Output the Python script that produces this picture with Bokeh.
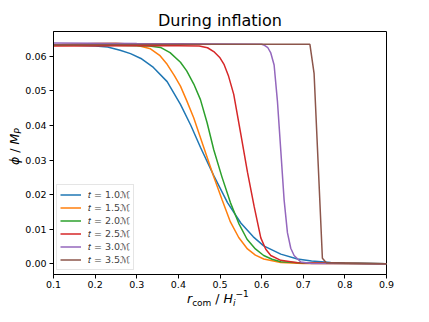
from bokeh.plotting import figure
from bokeh.models import Range1d, FixedTicker, NumeralTickFormatter, Legend, LegendItem, Div
from bokeh.layouts import row, column
from bokeh.embed import file_html
from bokeh.resources import INLINE

# ---- data ----
labels = ["𝑡 = 1.0ℳ", "𝑡 = 1.5ℳ", "𝑡 = 2.0ℳ", "𝑡 = 2.5ℳ", "𝑡 = 3.0ℳ", "𝑡 = 3.5ℳ"]
colors = ["#1f77b4", "#ff7f0e", "#2ca02c", "#d62728", "#9467bd", "#8c564b"]

r_t10 = [0.10, 0.15, 0.20, 0.23, 0.26, 0.285, 0.31, 0.34, 0.373, 0.405, 0.43, 0.453, 0.485, 0.518,
         0.55, 0.58, 0.605, 0.646, 0.686, 0.72, 0.766, 0.80, 0.90]
phi_t10 = [0.0632, 0.0632, 0.0630, 0.0627, 0.0618, 0.0608, 0.0594, 0.0568, 0.0527, 0.0461, 0.0400, 0.0337,
           0.0255, 0.0177, 0.0118, 0.0078, 0.0052, 0.0028, 0.0014, 0.0008, 0.0004, 0.0002, 0.0]

r_t15 = [0.10, 0.20, 0.25, 0.28, 0.30, 0.333, 0.355, 0.373, 0.39, 0.405, 0.42, 0.437, 0.46, 0.485,
         0.505, 0.525, 0.545, 0.566, 0.585, 0.605, 0.646, 0.70, 0.90]
phi_t15 = [0.0634, 0.0637, 0.0638, 0.0636, 0.0632, 0.0622, 0.0603, 0.0577, 0.0545, 0.0514, 0.0472, 0.0422,
           0.0340, 0.0252, 0.0185, 0.0121, 0.0076, 0.0043, 0.0025, 0.0014, 0.0004, 0.0001, 0.0]

r_t20 = [0.10, 0.25, 0.30, 0.33, 0.357, 0.38, 0.405, 0.42, 0.437, 0.453, 0.469, 0.485, 0.505, 0.525,
         0.545, 0.565, 0.585, 0.605, 0.625, 0.646, 0.70, 0.90]
phi_t20 = [0.0632, 0.0632, 0.0631, 0.0630, 0.0626, 0.0611, 0.0583, 0.0558, 0.0520, 0.0475, 0.0408, 0.0330,
           0.0250, 0.0177, 0.0117, 0.0071, 0.0043, 0.0024, 0.0013, 0.0006, 0.0002, 0.0]

r_t25 = [0.10, 0.30, 0.40, 0.45, 0.47, 0.485, 0.50, 0.51, 0.52, 0.533, 0.55, 0.566, 0.582, 0.598,
         0.61, 0.622, 0.646, 0.686, 0.90]
phi_t25 = [0.0630, 0.0631, 0.0631, 0.0630, 0.0625, 0.0614, 0.0596, 0.0576, 0.0545, 0.0490, 0.0375, 0.0265,
           0.0166, 0.0075, 0.0042, 0.0024, 0.0010, 0.0003, 0.0]

r_t30 = [0.10, 0.30, 0.50, 0.60, 0.605, 0.615, 0.622, 0.630, 0.638, 0.646, 0.654, 0.662, 0.670, 0.678,
         0.694, 0.72, 0.90]
phi_t30 = [0.0639, 0.0637, 0.0636, 0.0635, 0.0633, 0.0625, 0.0610, 0.0575, 0.0470, 0.0328, 0.0185, 0.0090,
           0.0045, 0.0024, 0.0005, 0.0001, 0.0]

r_t35 = [0.10, 0.50, 0.716, 0.726, 0.736, 0.746, 0.756, 0.90]
phi_t35 = [0.0634, 0.0635, 0.0635, 0.0551, 0.0285, 0.0016, 0.0002, 0.0]

x_ticks = [0.1, 0.2, 0.3, 0.4, 0.5, 0.6, 0.7, 0.8, 0.9]
y_ticks = [0.00, 0.01, 0.02, 0.03, 0.04, 0.05, 0.06]

series = [(r_t10, phi_t10), (r_t15, phi_t15), (r_t20, phi_t20),
          (r_t25, phi_t25), (r_t30, phi_t30), (r_t35, phi_t35)]

FONT = "DejaVu Sans"

p = figure(width=391, height=291, output_backend="svg", toolbar_location=None,
           x_range=Range1d(0.1, 0.9), y_range=Range1d(-0.0031, 0.0672),
           min_border_left=31, min_border_right=27, min_border_top=31, min_border_bottom=17,
           title="During inflation")
p.title.text_font = FONT
p.title.text_font_size = "16px"
p.title.text_font_style = "normal"
p.title.text_color = "black"
p.title.align = "center"
p.title.standoff = 4

p.grid.visible = False
p.outline_line_color = "black"
p.outline_line_width = 1
p.background_fill_color = "white"
p.border_fill_color = "white"

for ax in (p.xaxis[0], p.yaxis[0]):
    ax.axis_line_color = "black"
    ax.major_tick_line_color = "black"
    ax.major_tick_in = 0
    ax.major_tick_out = 4
    ax.minor_tick_line_color = None
    ax.major_label_text_font = FONT
    ax.major_label_text_font_size = "9.5px"
    ax.major_label_text_color = "black"

p.xaxis.ticker = FixedTicker(ticks=x_ticks)
p.yaxis.ticker = FixedTicker(ticks=y_ticks)
p.xaxis.formatter = NumeralTickFormatter(format="0.0")
p.yaxis.formatter = NumeralTickFormatter(format="0.00")
p.xaxis.major_label_standoff = 2
p.yaxis.major_label_standoff = 3

items = []
for (rr, ph), c, lab in zip(series, colors, labels):
    g = p.line(rr, ph, line_color=c, line_width=1.5)
    items.append(LegendItem(label=lab, renderers=[g]))

leg = Legend(items=items, location=(3, 4))
leg.label_text_font = FONT
leg.label_text_font_size = "9.5px"
leg.glyph_width = 21
leg.glyph_height = 13
leg.label_height = 13
leg.label_standoff = 7
leg.padding = 3
leg.spacing = 0
leg.margin = 0
leg.border_line_color = "#cccccc"
leg.border_line_width = 1
leg.background_fill_alpha = 0.8
p.add_layout(leg)

# axis titles with sub/superscripts, as real HTML text
SUB = "font-size:9px;line-height:0;vertical-align:-3px;"
SUP = "font-size:9px;line-height:0;vertical-align:6px;"
xlabel_html = (
    '<div style="font-family:\'DejaVu Sans\';font-size:12.5px;line-height:14px;color:black;'
    'padding-left:165px;white-space:nowrap;">'
    '<i>r</i><span style="' + SUB + '">com</span> / <i>H</i>'
    '<span style="' + SUB + '"><i>i</i></span><span style="' + SUP + '">−1</span></div>'
)
ylabel_html = (
    '<div style="width:22px;height:306px;box-sizing:border-box;writing-mode:vertical-rl;'
    'transform:rotate(180deg);text-align:center;padding-top:12px;padding-right:8px;'
    'font-family:\'DejaVu Sans\';font-size:12.5px;line-height:14px;color:black;white-space:nowrap;">'
    '<i>ϕ</i> / <i>M</i><span style="' + SUB + '"><i>P</i></span></div>'
)

xdiv = Div(text=xlabel_html, width=391, height=15, margin=0)
ydiv = Div(text=ylabel_html, width=22, height=306, margin=0)

layout = row(ydiv, column(p, xdiv, spacing=0), spacing=0)

open("out.html", "w").write(file_html(layout, INLINE))
